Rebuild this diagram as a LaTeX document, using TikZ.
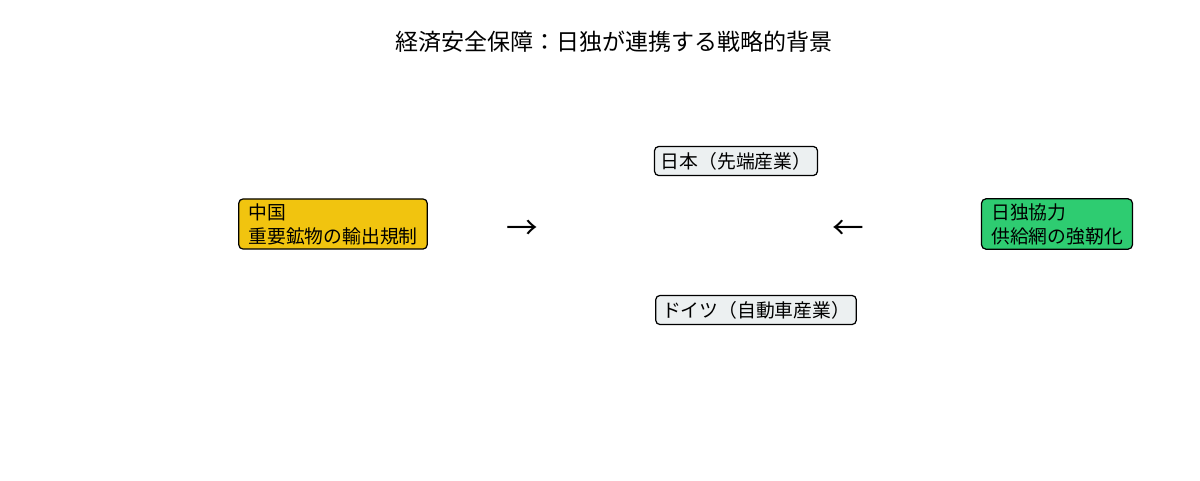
\documentclass[tikz,border=0pt]{standalone}
\usepackage{fontspec}
\setmainfont{Noto Sans CJK JP}
\usepackage{xcolor}
\usepackage{tikz}
\usetikzlibrary{positioning}

\definecolor{chinayellow}{HTML}{F1C40F}
\definecolor{coopgreen}{HTML}{2ECC71}
\definecolor{coregray}{HTML}{ECF0F1}

\begin{document}
\begin{tikzpicture}[x=0.02cm, y=-0.02cm, font=\fontsize{10.7}{13.7}\selectfont,
    sidebox/.style={draw=black, line width=0.7pt, rounded corners=2.5pt, align=left,
        inner xsep=5.5pt, inner ysep=2.5pt},
    corebox/.style={draw=black, line width=0.7pt, rounded corners=2.5pt, fill=coregray,
        inner xsep=3.6pt, inner ysep=3.2pt},
    arrowtxt/.style={font=\fontsize{18}{18}\selectfont, inner sep=0pt}]
% page frame: 1200 x 480 px
\useasboundingbox (0,0) rectangle (1200,480);

% Title
\node[font=\fontsize{13.1}{15}\selectfont] (title) at (614,42) {経済安全保障：日独が連携する戦略的背景};

% Left: export control
\node[sidebox, fill=chinayellow] (china) at (333,224) {中国\\重要鉱物の輸出規制};
\node[arrowtxt] (arrowl) at (522,230) {→};

% Centre: the two industries
\node[corebox] (japan) at (736,161) {日本（先端産業）};
\node[corebox] (germany) at (756,310) {ドイツ（自動車産業）};

% Right: cooperation
\node[arrowtxt] (arrowr) at (848,230) {←};
\node[sidebox, fill=coopgreen] (jdcoop) at (1057,224) {日独協力\\供給網の強靭化};
\end{tikzpicture}
\end{document}
